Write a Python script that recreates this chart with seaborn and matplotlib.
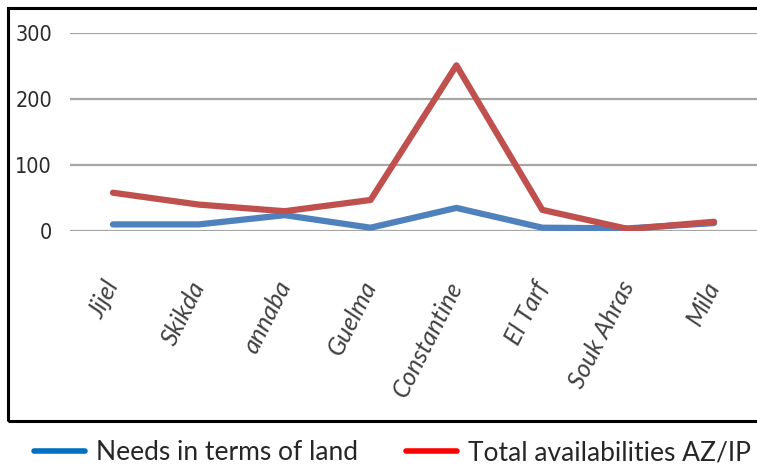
import matplotlib
matplotlib.use('Agg')
import matplotlib.pyplot as plt
import seaborn as sns
import pandas as pd
from matplotlib.patches import Rectangle
from matplotlib.lines import Line2D

# --- data ---
regions = ['Jijel', 'Skikda', 'annaba', 'Guelma', 'Constantine', 'El Tarf', 'Souk Ahras', 'Mila']
needs_land = [10, 10, 24, 5, 35, 5, 4, 12]
total_avail = [58, 40, 30, 47, 251, 32, 3, 14]
y_ticks = [0, 100, 200, 300]

df = pd.DataFrame({
    'region': regions * 2,
    'value': needs_land + total_avail,
    'series': ['Needs in terms of land'] * len(regions) + ['Total availabilities AZ/IP'] * len(regions),
})

sns.set_style('white')
plt.rcParams['font.family'] = ['Lato', 'DejaVu Sans']

fig = plt.figure(figsize=(7.57, 4.66), dpi=100)
ax = fig.add_axes([70 / 757, 1 - 231 / 466, 1 - 70 / 757, (231 - 33) / 466])

sns.lineplot(data=df, x='region', y='value', hue='series',
             palette=['#4F81BD', '#C0504D'], linewidth=4.5, sort=False,
             legend=False, ax=ax, zorder=3)

ax.set_xlim(-0.5, len(regions) - 0.5)
ax.set_ylim(0, 300)
ax.set_yticks(y_ticks)
ax.yaxis.grid(True, color='#a6a6a6', linewidth=1.6)
ax.set_axisbelow(True)
for s in ax.spines.values():
    s.set_visible(False)
ax.set_xlabel('')
ax.set_ylabel('')
ax.tick_params(axis='both', length=0)
ax.tick_params(axis='y', pad=13)
ax.tick_params(axis='x', pad=37)
for lab in ax.get_yticklabels():
    lab.set_fontfamily('DejaVu Sans')
    lab.set_fontstretch('condensed')
    lab.set_fontsize(15.5)
    lab.set_color('#2a2a2a')
ax.set_xticks(range(len(regions)))
ax.set_xticklabels(regions, rotation=63, ha='right', va='center',
                   rotation_mode='anchor', fontsize=18, style='italic',
                   color='#404040')

# outer chart border (right edge runs off the picture)
fig.patches.append(Rectangle((8 / 757, 1 - 421 / 466), 1.0, (421 - 8) / 466,
                             transform=fig.transFigure, fill=False,
                             edgecolor='black', linewidth=2.2))

handles = [Line2D([], [], color='#0070C0', linewidth=4),
           Line2D([], [], color='#FF0000', linewidth=4)]
fig.legend(handles, ['Needs in terms of land', 'Total availabilities AZ/IP'],
           loc='center left', bbox_to_anchor=(34 / 757, 1 - 453 / 466),
           ncol=2, frameon=False, fontsize=19, handlelength=1.95,
           handletextpad=0.4, columnspacing=1.8, borderaxespad=0,
           borderpad=0)

fig.savefig('out.png', dpi=100)
